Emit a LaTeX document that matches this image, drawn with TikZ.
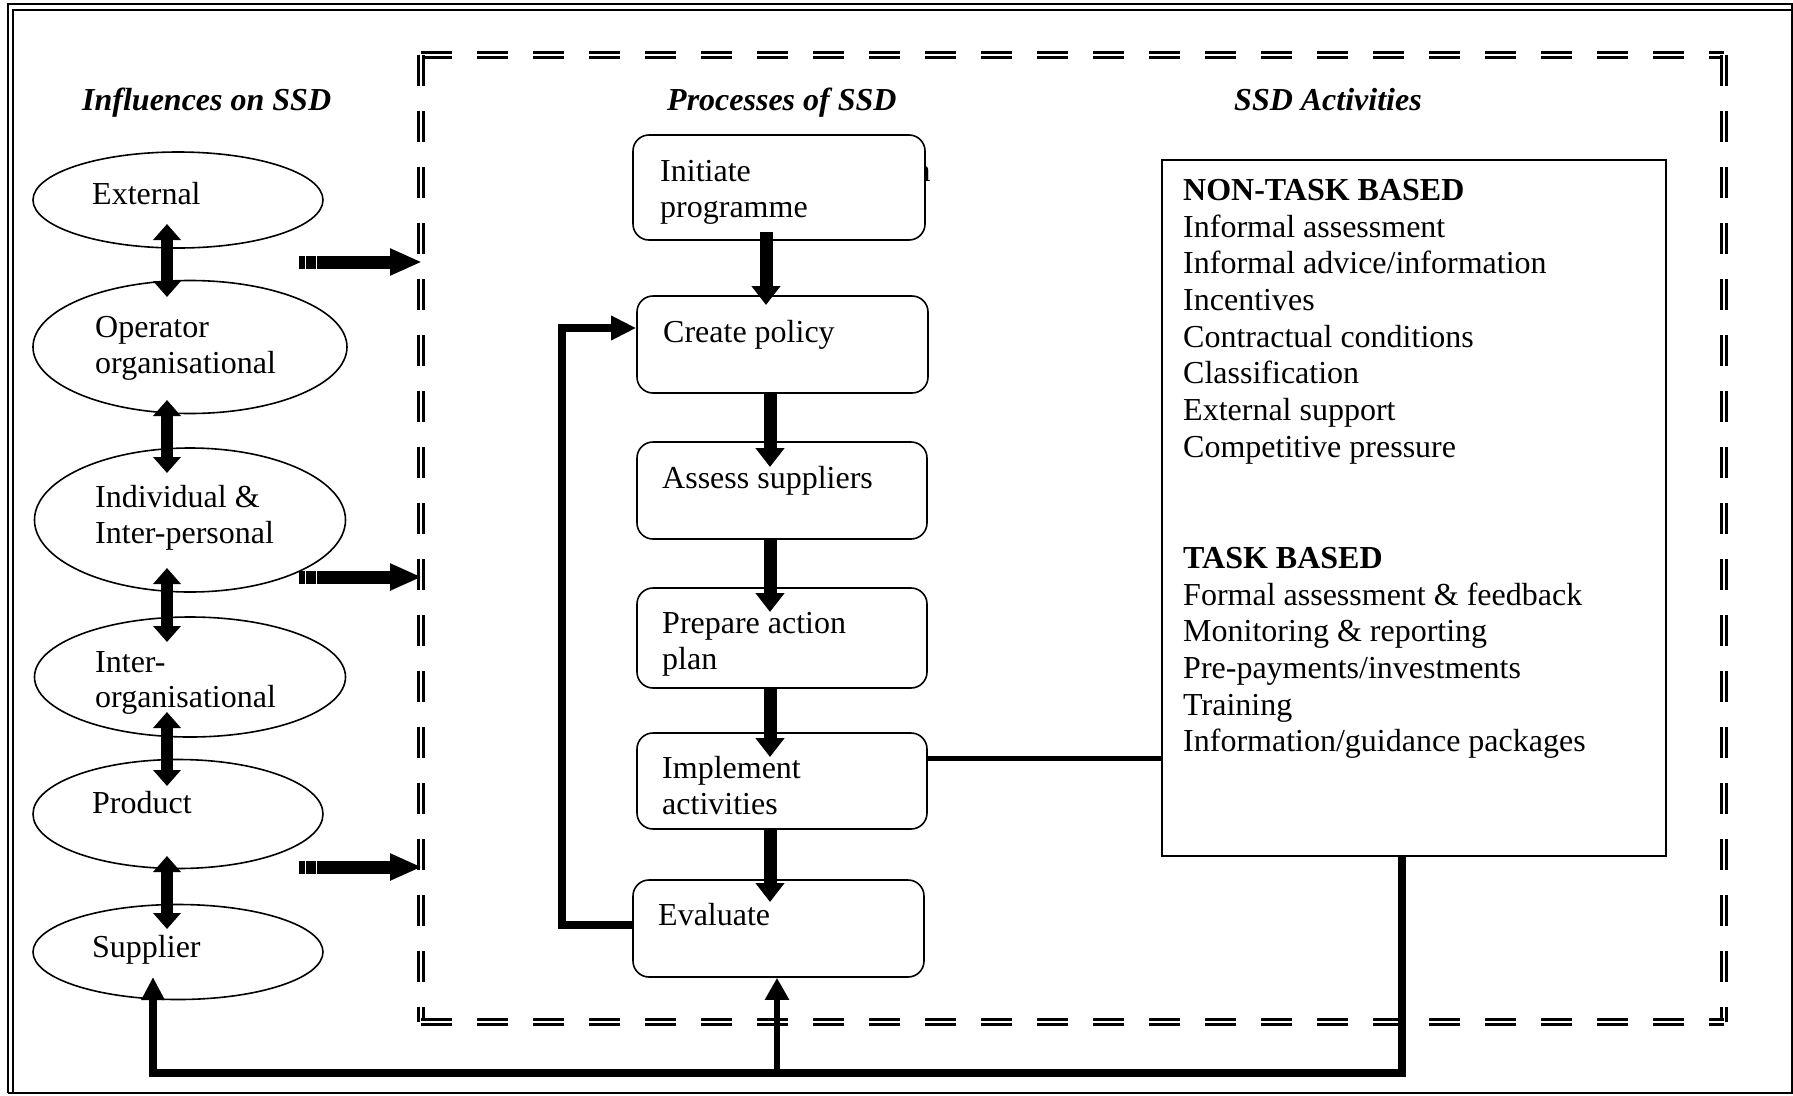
\documentclass[tikz,border=0pt]{standalone}
\usepackage{fontspec}
\setmainfont{Liberation Serif}
\usetikzlibrary{arrows.meta,shapes.geometric}
\begin{document}
\begin{tikzpicture}[x=1pt,y=-1pt,
  txt/.style={anchor=base west, inner sep=0pt, font=\fontsize{32}{36.7}\selectfont},
  ttl/.style={anchor=base west, inner sep=0pt, font=\fontsize{32}{36.7}\selectfont\bfseries\itshape},
  hdr/.style={anchor=base west, inner sep=0pt, font=\fontsize{32}{36.7}\selectfont\bfseries},
  ell/.style={draw, ellipse, line width=1.6pt, inner sep=0pt},
  proc/.style={draw, rounded corners=16pt, line width=1.6pt, fill=white, inner sep=0pt},
  dblarrow/.style={line width=12pt, {Triangle[width=27pt,length=16pt]}-{Triangle[width=27pt,length=16pt]}},
  blockarrow/.style={line width=13pt, -{Triangle[width=25pt,length=32pt]}},
  downarrow/.style={line width=13pt, -{Triangle[width=28pt,length=19pt]}},
  loopline/.style={line width=7.5pt, -{Triangle[width=23pt,length=25pt]}},
  border/.style={line width=2pt},
  dbldash/.style={double, double distance=2.5pt, line width=2.5pt, dash pattern=on 31pt off 25pt}
]
\useasboundingbox (0,0) rectangle (1793,1095);
\fill[white] (0,0) rectangle (1793,1095);

% outer double border
\draw[border] (8,1093) -- (8,3.5) -- (1793,3.5);
\draw[border] (12.5,1093) -- (12.5,9.5) -- (1792,9.5);
\draw[border] (1792,3.5) -- (1792,1093) -- (8,1093);

% dashed double frame
\draw[dbldash] (421,55) -- (1724,55);
\draw[dbldash] (421,55) -- (421,1022);
\draw[dbldash] (1724,55) -- (1724,1022);
\draw[dbldash] (421,1022) -- (1724,1022);

% titles
\node[ttl] (t1) at (82,110) {Influences on SSD};
\node[ttl] (t2) at (667,110) {Processes of SSD};
\node[ttl] (t3) at (1234,110) {SSD Activities};

% influences (ellipses)
\node[ell, minimum width=290pt, minimum height=96pt] (e1) at (178,200) {};
\node[ell, minimum width=314pt, minimum height=133pt] (e2) at (190,347) {};
\node[ell, minimum width=311pt, minimum height=144pt] (e3) at (190,520) {};
\node[ell, minimum width=311pt, minimum height=120pt] (e4) at (190,677) {};
\node[ell, minimum width=290pt, minimum height=109pt] (e5) at (178,814) {};
\node[ell, minimum width=290pt, minimum height=95pt] (e6) at (178,952) {};

\node[txt] (l1) at (92,204) {External};
\node[txt] (l2a) at (95,337) {Operator};
\node[txt] (l2b) at (95,373) {organisational};
\node[txt] (l3a) at (95,507) {Individual \&};
\node[txt] (l3b) at (95,543) {Inter-personal};
\node[txt] (l4a) at (95,672) {Inter-};
\node[txt] (l4b) at (95,707) {organisational};
\node[txt] (l5) at (92,813) {Product};
\node[txt] (l6) at (92,957) {Supplier};

% double arrows between influences
\coordinate (d1t) at (167,224); \coordinate (d1b) at (167,297);
\coordinate (d2t) at (167,400); \coordinate (d2b) at (167,473);
\coordinate (d3t) at (167,568); \coordinate (d3b) at (167,642);
\coordinate (d4t) at (167,712); \coordinate (d4b) at (167,786);
\coordinate (d5t) at (167,856); \coordinate (d5b) at (167,929);
\draw[dblarrow] (d1t) -- (d1b);
\draw[dblarrow] (d2t) -- (d2b);
\draw[dblarrow] (d3t) -- (d3b);
\draw[dblarrow] (d4t) -- (d4b);
\draw[dblarrow] (d5t) -- (d5b);

% block arrows into frame
\foreach \yy/\nm in {262/ba, 577/bb, 867/bc} {
  \fill (298.5,\yy-6.5) rectangle (304.5,\yy+6.5);
  \fill (305.8,\yy-6.5) rectangle (315.8,\yy+6.5);
  \coordinate (\nm s) at (317,\yy);
  \coordinate (\nm e) at (422,\yy);
  \draw[blockarrow] (\nm s) -- (\nm e);
}

% stray letter partly hidden
\begin{scope}
  \clip (919,140) rectangle (945,200);
  \node[txt] (stray) at (914.5,181) {n};
\end{scope}

% processes
\node[proc, minimum width=292pt, minimum height=105pt] (p1) at (779,187.5) {};
\node[proc, minimum width=291pt, minimum height=97pt] (p2) at (782.5,344.5) {};
\node[proc, minimum width=290pt, minimum height=97pt] (p3) at (782,490.5) {};
\node[proc, minimum width=290pt, minimum height=100pt] (p4) at (782,638) {};
\node[proc, minimum width=290pt, minimum height=96pt] (p5) at (782,781) {};
\node[proc, minimum width=291pt, minimum height=97pt] (p6) at (778.5,928.5) {};

\node[txt] (q1a) at (660,181) {Initiate};
\node[txt] (q1b) at (660,217) {programme};
\node[txt] (q2) at (663,342) {Create policy};
\node[txt] (q3) at (662,488) {Assess suppliers};
\node[txt] (q4a) at (662,633) {Prepare action};
\node[txt] (q4b) at (662,669) {plan};
\node[txt] (q5a) at (662,778) {Implement};
\node[txt] (q5b) at (662,814) {activities};
\node[txt] (q6) at (658,925) {Evaluate};

% down arrows between processes
\draw[downarrow] (766,232) -- (766,305);
\draw[downarrow] (p2.south -| 770,0) -- (770,467);
\draw[downarrow] (p3.south -| 770,0) -- (770,612);
\draw[downarrow] (p4.south -| 770,0) -- (770,757);
\draw[downarrow] (p5.south -| 770,0) -- (770,902);

% feedback loop Evaluate -> Create policy
\draw[loopline] (p6.west |- 0,925) -- (562,925) -- (562,328) -- (p2.west |- 0,328);

% activities box
\node[draw, line width=1.6pt, minimum width=504pt, minimum height=696pt, inner sep=0pt] (act) at (1414,508) {};
\node[hdr] (h1) at (1183,200) {NON-TASK BASED};
\foreach \t [count=\i] in {Informal assessment, Informal advice/information, Incentives, Contractual conditions, Classification, External support, Competitive pressure} {
  \node[txt] (na\i) at (1183,{237+36.7*(\i-1)}) {\t};
}
\node[hdr] (h2) at (1183,568) {TASK BASED};
\foreach \t [count=\i] in {Formal assessment \& feedback, Monitoring \& reporting, Pre-payments/investments, Training, Information/guidance packages} {
  \node[txt] (nb\i) at (1183,{605+36.7*(\i-1)}) {\t};
}

% implement -> activities
\draw[line width=5pt] (p5.east |- 0,758) -- (act.west |- 0,758);

% bottom feedback
\coordinate (bl) at (153,1073);
\coordinate (br) at (1402,1073);
\draw[line width=8pt, -{Triangle[width=22pt,length=23pt]}] (act.south -| 1402,0) -- (br) -- (bl) -- (153,977);
\coordinate (bm) at (777,1073);
\draw[line width=6pt, -{Triangle[width=23pt,length=22pt]}] (bm) -- (p6.south -| 777,0);
\end{tikzpicture}
\end{document}
